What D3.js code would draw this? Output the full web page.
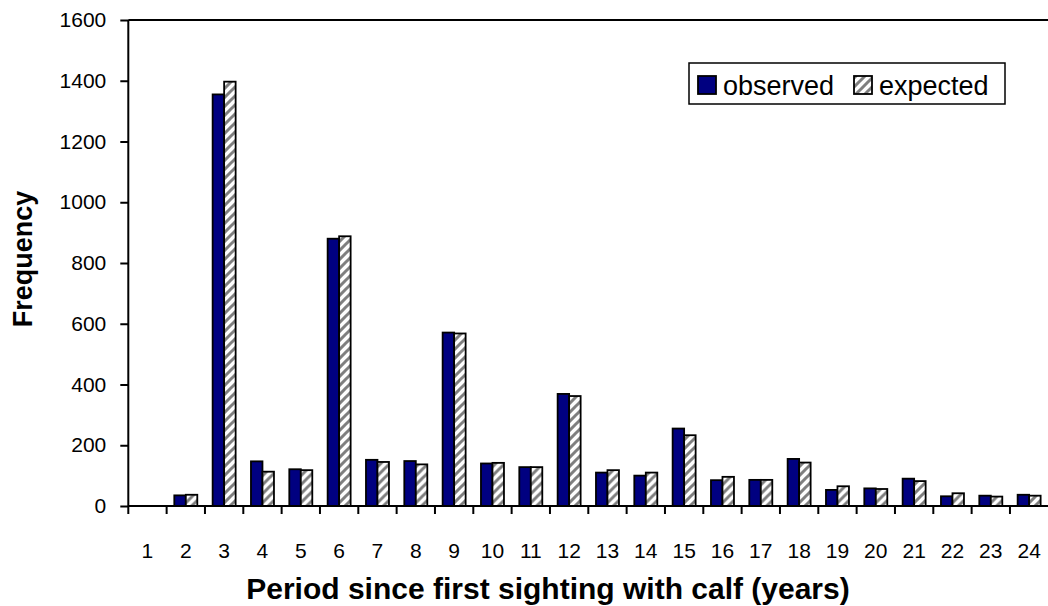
<!DOCTYPE html>
<html>
<head>
<meta charset="utf-8">
<script src="https://cdn.jsdelivr.net/npm/d3@7"></script>
<style>
  body { margin: 0; background: #fff; }
  svg { display: block; font-family: "Liberation Sans", Arial, sans-serif; }
</style>
</head>
<body>
<svg id="chart" width="1048" height="606"></svg>
<script>
// years since first sighting with calf
let periods = d3.range(1, 25);
let observed = [0, 35, 1355, 147, 121, 880, 152, 148, 571, 140, 128, 369, 110, 100, 255, 85, 86, 155, 53, 58, 90, 32, 34, 37];
let expected = [0, 37, 1397, 113, 118, 888, 145, 137, 568, 142, 128, 362, 118, 110, 233, 96, 86, 143, 65, 56, 82, 42, 31, 34];
let yTicks = [0, 200, 400, 600, 800, 1000, 1200, 1400, 1600];
let seriesNames = ["observed", "expected"];

let svg = d3.select("#chart");

let plotLeft = 128.3, plotRight = 1048.3, plotTop = 20, plotBottom = 506;

let x = d3.scaleBand().domain(periods).range([plotLeft, plotRight]).paddingInner(0).paddingOuter(0);
let xInner = d3.scaleBand().domain(seriesNames).range([0, x.bandwidth()]).paddingInner(0).paddingOuter(0.667);
let y = d3.scaleLinear().domain([0, 1600]).range([plotBottom, plotTop]);

// hatch pattern for the expected bars
let defs = svg.append("defs");
let pat = defs.append("pattern")
    .attr("id", "hatch")
    .attr("patternUnits", "userSpaceOnUse")
    .attr("width", 9)
    .attr("height", 9);
pat.append("rect").attr("width", 9).attr("height", 9).attr("fill", "#fff");
pat.append("path")
    .attr("d", "M-2,11 L11,-2 M-4,4 L4,-4 M5,13 L13,5")
    .attr("stroke", "#7f7f7f")
    .attr("stroke-width", 3);

let fills = {observed: "#000080", expected: "url(#hatch)"};

// top border of plot area
svg.append("line")
    .attr("x1", plotLeft).attr("x2", 1048)
    .attr("y1", plotTop).attr("y2", plotTop)
    .attr("stroke", "#000").attr("stroke-width", 2);

// bars
let rows = periods.map(function (p, i) {
    return {period: p, observed: observed[i], expected: expected[i]};
});

let groups = svg.append("g").attr("class", "bars")
    .selectAll("g")
    .data(rows)
    .enter()
    .append("g")
    .attr("transform", function (d) { return "translate(" + x(d.period) + ",0)"; });

groups.selectAll("rect")
    .data(function (d) {
        return seriesNames.map(function (s) { return {key: s, value: d[s]}; })
            .filter(function (e) { return e.value > 0; });
    })
    .enter()
    .append("rect")
    .attr("x", function (d) { return xInner(d.key); })
    .attr("width", xInner.bandwidth())
    .attr("y", function (d) { return y(d.value); })
    .attr("height", function (d) { return plotBottom - y(d.value); })
    .attr("fill", function (d) { return fills[d.key]; })
    .attr("stroke", "#000")
    .attr("stroke-width", 1.8);

// y axis
let yAxis = svg.append("g")
    .attr("transform", "translate(" + plotLeft + ",0)")
    .call(d3.axisLeft(y).tickValues(yTicks).tickSize(8).tickPadding(14).tickFormat(d3.format("d")));
yAxis.select(".domain").attr("stroke-width", 2).attr("d", "M0," + plotTop + "V" + plotBottom);
yAxis.selectAll(".tick line").attr("stroke-width", 2);
yAxis.selectAll("text").attr("font-size", 21).attr("fill", "#000")
    .attr("font-family", "Liberation Sans, Arial, sans-serif");

// x axis, ticks between categories
let xAxis = svg.append("g").attr("transform", "translate(0," + plotBottom + ")");
xAxis.append("line")
    .attr("x1", plotLeft).attr("x2", 1048)
    .attr("stroke", "#000").attr("stroke-width", 2);
xAxis.selectAll("line.tk")
    .data(periods)
    .enter()
    .append("line")
    .attr("class", "tk")
    .attr("x1", function (d) { return x(d); })
    .attr("x2", function (d) { return x(d); })
    .attr("y1", 0).attr("y2", 8)
    .attr("stroke", "#000").attr("stroke-width", 2);
xAxis.selectAll("text")
    .data(periods)
    .enter()
    .append("text")
    .attr("x", function (d) { return x(d) + x.bandwidth() / 2; })
    .attr("y", 52)
    .attr("text-anchor", "middle")
    .attr("font-size", 21)
    .text(function (d) { return d; });

// axis titles
svg.append("text")
    .attr("x", 548)
    .attr("y", 599)
    .attr("text-anchor", "middle")
    .attr("font-size", 30)
    .attr("font-weight", "bold")
    .text("Period since first sighting with calf (years)");

svg.append("text")
    .attr("transform", "translate(32,259) rotate(-90)")
    .attr("text-anchor", "middle")
    .attr("font-size", 27)
    .attr("font-weight", "bold")
    .text("Frequency");

// legend
let legend = svg.append("g").attr("class", "legend").attr("transform", "translate(689,63)");
legend.append("rect")
    .attr("width", 316).attr("height", 41)
    .attr("fill", "#fff").attr("stroke", "#000").attr("stroke-width", 1.5);
let legendX = [9, 165];
seriesNames.forEach(function (s, i) {
    legend.append("rect")
        .attr("x", legendX[i]).attr("y", 13)
        .attr("width", 18).attr("height", 18)
        .attr("fill", fills[s]).attr("stroke", "#000").attr("stroke-width", 1.8);
    legend.append("text")
        .attr("x", legendX[i] + 25).attr("y", 32)
        .attr("font-size", 27)
        .text(s);
});
</script>
</body>
</html>
